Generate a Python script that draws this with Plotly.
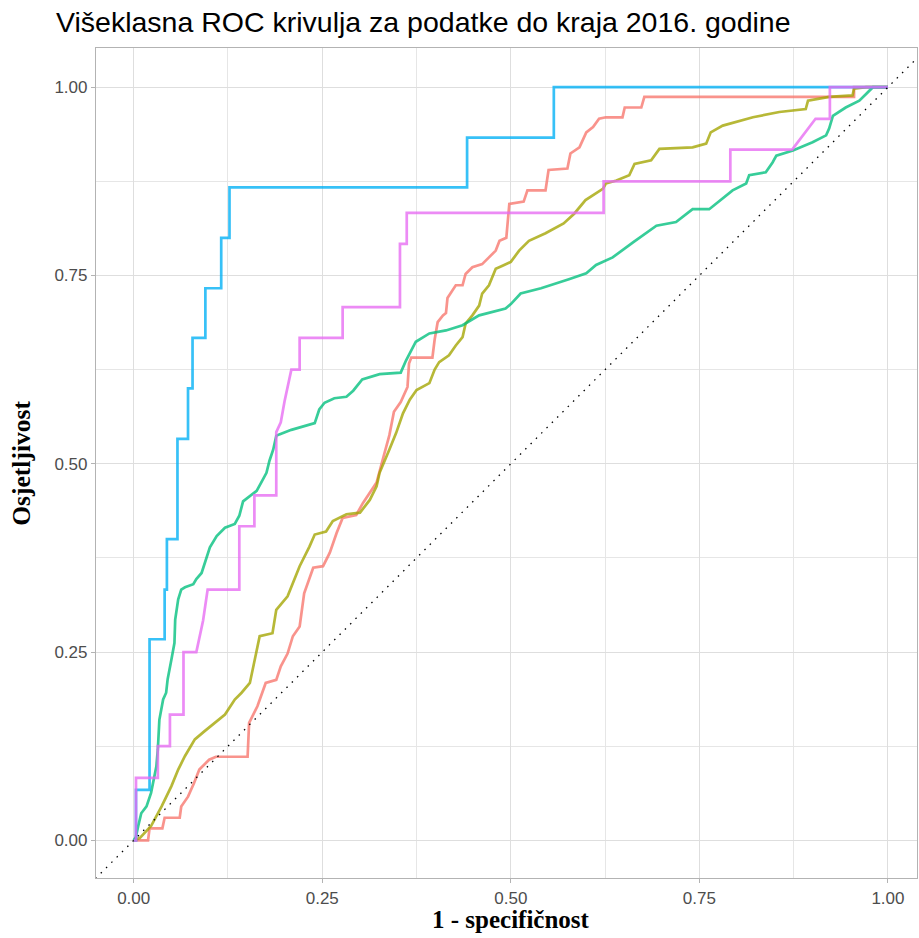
import plotly.graph_objects as go

# ROC curve points (1 - specificity, sensitivity) per class
red_fpr = [0, 0.003, 0.019, 0.021, 0.038, 0.041, 0.061, 0.063, 0.072, 0.080, 0.087, 0.100, 0.109, 0.151, 0.153, 0.164, 0.175, 0.189, 0.195, 0.204, 0.211, 0.220, 0.226, 0.238, 0.251, 0.260, 0.269, 0.277, 0.295, 0.304, 0.313, 0.322, 0.330, 0.339, 0.345, 0.354, 0.363, 0.365, 0.368, 0.396, 0.399, 0.403, 0.410, 0.414, 0.416, 0.427, 0.436, 0.440, 0.449, 0.462, 0.471, 0.480, 0.485, 0.494, 0.498, 0.517, 0.522, 0.546, 0.550, 0.575, 0.579, 0.591, 0.600, 0.609, 0.617, 0.626, 0.648, 0.651, 0.673, 0.677, 0.955, 0.955, 1.0]
red_tpr = [0, 0, 0, 0.016, 0.016, 0.030, 0.030, 0.045, 0.058, 0.076, 0.094, 0.107, 0.111, 0.111, 0.156, 0.178, 0.209, 0.213, 0.231, 0.248, 0.271, 0.284, 0.328, 0.362, 0.364, 0.382, 0.408, 0.428, 0.432, 0.448, 0.461, 0.475, 0.505, 0.538, 0.569, 0.582, 0.602, 0.633, 0.641, 0.641, 0.665, 0.688, 0.697, 0.700, 0.720, 0.737, 0.737, 0.752, 0.761, 0.765, 0.774, 0.783, 0.796, 0.800, 0.845, 0.848, 0.863, 0.863, 0.890, 0.892, 0.912, 0.920, 0.940, 0.947, 0.958, 0.960, 0.960, 0.973, 0.973, 0.987, 0.987, 1.0, 1.0]

olive_fpr = [0, 0.008, 0.023, 0.037, 0.050, 0.059, 0.068, 0.076, 0.081, 0.094, 0.107, 0.121, 0.134, 0.143, 0.154, 0.160, 0.167, 0.184, 0.189, 0.204, 0.220, 0.233, 0.240, 0.255, 0.264, 0.282, 0.300, 0.313, 0.322, 0.326, 0.333, 0.339, 0.348, 0.357, 0.366, 0.375, 0.392, 0.399, 0.405, 0.418, 0.427, 0.436, 0.440, 0.449, 0.458, 0.462, 0.471, 0.480, 0.489, 0.500, 0.511, 0.524, 0.546, 0.570, 0.584, 0.599, 0.622, 0.626, 0.640, 0.657, 0.664, 0.686, 0.697, 0.741, 0.759, 0.765, 0.781, 0.799, 0.821, 0.856, 0.891, 0.894, 0.922, 0.953, 0.955, 0.971, 1.0]
olive_tpr = [0, 0.003, 0.019, 0.045, 0.072, 0.094, 0.112, 0.125, 0.134, 0.145, 0.156, 0.167, 0.187, 0.196, 0.209, 0.240, 0.271, 0.275, 0.306, 0.324, 0.364, 0.390, 0.406, 0.410, 0.424, 0.433, 0.435, 0.452, 0.470, 0.488, 0.506, 0.519, 0.541, 0.567, 0.585, 0.598, 0.607, 0.625, 0.635, 0.644, 0.657, 0.668, 0.686, 0.697, 0.710, 0.726, 0.737, 0.759, 0.763, 0.768, 0.783, 0.796, 0.806, 0.819, 0.832, 0.850, 0.865, 0.872, 0.876, 0.883, 0.898, 0.903, 0.918, 0.920, 0.925, 0.940, 0.949, 0.954, 0.960, 0.967, 0.971, 0.982, 0.987, 0.989, 0.998, 1.0, 1.0]

green_fpr = [0, 0.003, 0.006, 0.010, 0.017, 0.023, 0.030, 0.032, 0.034, 0.039, 0.043, 0.045, 0.050, 0.054, 0.055, 0.059, 0.063, 0.068, 0.079, 0.083, 0.090, 0.096, 0.101, 0.110, 0.121, 0.134, 0.140, 0.145, 0.154, 0.163, 0.169, 0.176, 0.180, 0.185, 0.189, 0.193, 0.209, 0.227, 0.240, 0.246, 0.253, 0.266, 0.282, 0.291, 0.303, 0.326, 0.354, 0.361, 0.374, 0.392, 0.414, 0.436, 0.458, 0.493, 0.500, 0.513, 0.540, 0.577, 0.600, 0.613, 0.635, 0.662, 0.684, 0.693, 0.719, 0.741, 0.763, 0.772, 0.794, 0.812, 0.816, 0.838, 0.847, 0.852, 0.874, 0.900, 0.918, 0.922, 0.927, 0.944, 0.962, 0.971, 0.980, 1.0]
green_tpr = [0, 0.005, 0.019, 0.036, 0.045, 0.063, 0.098, 0.121, 0.160, 0.187, 0.196, 0.214, 0.240, 0.262, 0.293, 0.320, 0.333, 0.336, 0.340, 0.347, 0.355, 0.373, 0.389, 0.404, 0.415, 0.420, 0.431, 0.450, 0.457, 0.464, 0.475, 0.488, 0.504, 0.519, 0.537, 0.539, 0.545, 0.550, 0.554, 0.572, 0.581, 0.587, 0.589, 0.597, 0.612, 0.619, 0.621, 0.637, 0.662, 0.673, 0.677, 0.684, 0.697, 0.706, 0.712, 0.726, 0.733, 0.745, 0.753, 0.764, 0.774, 0.794, 0.810, 0.816, 0.821, 0.838, 0.838, 0.845, 0.863, 0.872, 0.883, 0.887, 0.900, 0.909, 0.916, 0.927, 0.936, 0.945, 0.962, 0.973, 0.982, 0.991, 1.0, 1.0]

blue_fpr = [0, 0.003, 0.003, 0.021, 0.021, 0.041, 0.041, 0.044, 0.044, 0.058, 0.058, 0.072, 0.072, 0.078, 0.078, 0.095, 0.095, 0.116, 0.116, 0.127, 0.127, 0.442, 0.442, 0.557, 0.557, 1.0]
blue_tpr = [0, 0, 0.067, 0.067, 0.267, 0.267, 0.333, 0.333, 0.400, 0.400, 0.533, 0.533, 0.600, 0.600, 0.667, 0.667, 0.733, 0.733, 0.800, 0.800, 0.867, 0.867, 0.933, 0.933, 1.0, 1.0]

pink_fpr = [0, 0.003, 0.003, 0.032, 0.032, 0.048, 0.048, 0.066, 0.066, 0.083, 0.092, 0.098, 0.140, 0.140, 0.160, 0.160, 0.189, 0.189, 0.195, 0.200, 0.209, 0.220, 0.220, 0.277, 0.277, 0.353, 0.353, 0.362, 0.362, 0.623, 0.623, 0.791, 0.791, 0.873, 0.904, 0.923, 0.923, 1.0]
pink_tpr = [0, 0, 0.083, 0.083, 0.125, 0.125, 0.167, 0.167, 0.250, 0.250, 0.292, 0.333, 0.333, 0.417, 0.417, 0.458, 0.458, 0.542, 0.555, 0.583, 0.625, 0.625, 0.667, 0.667, 0.708, 0.708, 0.792, 0.792, 0.833, 0.833, 0.875, 0.875, 0.917, 0.917, 0.958, 0.958, 1.0, 1.0]

series = [
    (red_fpr, red_tpr, "#F8766D"),
    (olive_fpr, olive_tpr, "#A3A500"),
    (green_fpr, green_tpr, "#00BF7D"),
    (blue_fpr, blue_tpr, "#00B0F6"),
    (pink_fpr, pink_tpr, "#E76BF3"),
]

tick_vals = [0, 0.25, 0.5, 0.75, 1.0]
tick_text = ["0.00", "0.25", "0.50", "0.75", "1.00"]
minor_vals = [0.125, 0.375, 0.625, 0.875]

title_text = "Višeklasna ROC krivulja za podatke do kraja 2016. godine"
x_title = "1 - specifičnost"
y_title = "Osjetljivost"

fig = go.Figure()
for fx, ty, col in series:
    fig.add_trace(go.Scatter(x=fx, y=ty, mode="lines",
                             line=dict(color=col, width=2.7), opacity=0.78,
                             hoverinfo="skip", showlegend=False))

fig.add_trace(go.Scatter(x=[-0.1, 1.1], y=[-0.1, 1.1], mode="lines",
                         line=dict(color="black", width=1.3, dash="1.5px,6px"),
                         hoverinfo="skip", showlegend=False))

W, H = 919, 938
L, R, T, B = 96, 2, 48, 60
pw = W - L - R
ph = H - T - B

axis_common = dict(
    tickvals=tick_vals, ticktext=tick_text,
    ticks="outside", ticklen=4, tickcolor="#B3B3B3", tickwidth=1,
    showgrid=True, gridcolor="#DEDEDE", gridwidth=1,
    minor=dict(tickvals=minor_vals, showgrid=True, gridcolor="#E6E6E6", gridwidth=0.7, ticks=""),
    showline=True, mirror=True, linecolor="#B3B3B3", linewidth=1.2,
    zeroline=False,
    tickfont=dict(family="Liberation Sans, Arial, sans-serif", size=17, color="#4D4D4D"),
)

fig.update_layout(
    width=W, height=H,
    margin=dict(l=L, r=R, t=T, b=B),
    paper_bgcolor="white", plot_bgcolor="white",
    xaxis=dict(range=[-0.05, 1.0385], **axis_common),
    yaxis=dict(range=[-0.05, 1.052], **axis_common),
    annotations=[
        dict(text=title_text, xref="paper", yref="paper",
             x=(54 - L) / pw, y=(H - B - 22) / ph, xanchor="left", yanchor="middle",
             showarrow=False,
             font=dict(family="Liberation Sans, Arial, sans-serif", size=28.5, color="black")),
        dict(text="<b>" + x_title + "</b>", xref="x", yref="paper",
             x=0.5, y=(H - B - 919) / ph, xanchor="center", yanchor="middle",
             showarrow=False,
             font=dict(family="Liberation Serif, Times New Roman, serif", size=25, color="black")),
        dict(text="<b>" + y_title + "</b>", xref="paper", yref="y",
             x=(22 - L) / pw, y=0.5, xanchor="center", yanchor="middle", textangle=-90,
             showarrow=False,
             font=dict(family="Liberation Serif, Times New Roman, serif", size=25.5, color="black")),
    ],
)

fig.write_html("out.html")
